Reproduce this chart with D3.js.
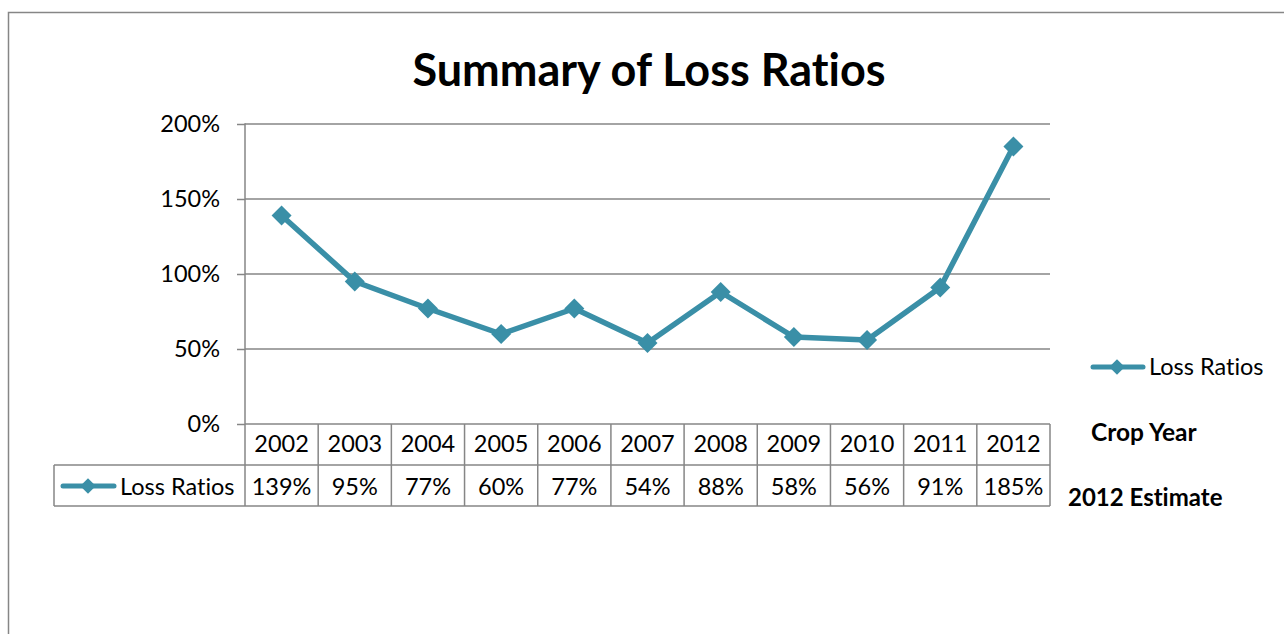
<!DOCTYPE html>
<html>
<head>
<meta charset="utf-8">
<script src="https://cdn.jsdelivr.net/npm/d3@7"></script>
<style>
  html, body { margin: 0; padding: 0; background: #fff; }
  svg { display: block; font-family: Lato, "Open Sans", sans-serif; font-variant-ligatures: none; }
</style>
</head>
<body>
<svg id="chart" width="1284" height="634"></svg>
<script>
// Crop years and loss ratios (fraction of premium)
const years = ["2002", "2003", "2004", "2005", "2006", "2007", "2008", "2009", "2010", "2011", "2012"];
const lossRatios = [1.39, 0.95, 0.77, 0.60, 0.77, 0.54, 0.88, 0.58, 0.56, 0.91, 1.85];
const yTicks = [0, 0.5, 1.0, 1.5, 2.0];
const seriesName = "Loss Ratios";
const chartTitle = "Summary of Loss Ratios";

const lineColor = "#3a8fa7";
const gridColor = "#868686";
const fs = 23.5;

const svg = d3.select("#chart");

// outer chart frame
svg.append("path")
  .attr("d", "M8.5,634 L8.5,12.5 L1284,12.5")
  .attr("fill", "none")
  .attr("stroke", gridColor)
  .attr("stroke-width", 1.5);

const plot = { left: 245, right: 1050, top: 124, bottom: 424 };
const rowH = 41;

const x = d3.scaleBand().domain(years).range([plot.left, plot.right]);
const y = d3.scaleLinear().domain([0, 2]).range([plot.bottom, plot.top]);

// title
svg.append("text")
  .attr("x", 649).attr("y", 86)
  .attr("text-anchor", "middle")
  .attr("font-size", 45).attr("font-weight", 700)
  .attr("fill", "#000")
  .text(chartTitle);

// horizontal gridlines
svg.append("g").selectAll("line")
  .data(yTicks.filter(d => d > 0))
  .join("line")
  .attr("x1", plot.left).attr("x2", plot.right)
  .attr("y1", d => y(d)).attr("y2", d => y(d))
  .attr("stroke", gridColor).attr("stroke-width", 1.5);

// y axis
const yAxis = svg.append("g")
  .attr("transform", `translate(${plot.left},0)`)
  .call(d3.axisLeft(y).tickValues(yTicks).tickFormat(d3.format(".0%")).tickSize(8).tickPadding(17));
yAxis.select(".domain").remove();
yAxis.selectAll(".tick line").attr("stroke", gridColor).attr("stroke-width", 1.5);
yAxis.selectAll(".tick text")
  .attr("font-size", fs).attr("fill", "#000")
  .attr("font-family", "Lato, 'Open Sans', sans-serif");

// axis line extended down through the data table
svg.append("line")
  .attr("x1", plot.left).attr("x2", plot.left)
  .attr("y1", plot.top - 0.75).attr("y2", plot.bottom + 2 * rowH)
  .attr("stroke", gridColor).attr("stroke-width", 1.5);

// data table grid
const tableG = svg.append("g");
const tableLeft = 54;
const tableBottom = plot.bottom + 2 * rowH;
tableG.append("line")
  .attr("x1", plot.left).attr("x2", plot.right)
  .attr("y1", plot.bottom).attr("y2", plot.bottom);
tableG.append("line")
  .attr("x1", tableLeft).attr("x2", plot.right)
  .attr("y1", plot.bottom + rowH).attr("y2", plot.bottom + rowH);
tableG.append("line")
  .attr("x1", tableLeft).attr("x2", plot.right)
  .attr("y1", tableBottom).attr("y2", tableBottom);
tableG.append("line")
  .attr("x1", tableLeft).attr("x2", tableLeft)
  .attr("y1", plot.bottom + rowH).attr("y2", tableBottom);
tableG.selectAll(".vsep")
  .data(years)
  .join("line")
  .attr("class", "vsep")
  .attr("x1", d => x(d) + x.bandwidth()).attr("x2", d => x(d) + x.bandwidth())
  .attr("y1", plot.bottom).attr("y2", tableBottom);
tableG.selectAll("line").attr("stroke", gridColor).attr("stroke-width", 1.5);

// year labels row
svg.append("g").selectAll("text")
  .data(years)
  .join("text")
  .attr("x", d => x(d) + x.bandwidth() / 2)
  .attr("y", plot.bottom + 28)
  .attr("text-anchor", "middle")
  .attr("font-size", fs).attr("fill", "#000")
  .text(d => d);

// value labels row
svg.append("g").selectAll("text")
  .data(years.map((yr, i) => ({ yr, v: lossRatios[i] })))
  .join("text")
  .attr("x", d => x(d.yr) + x.bandwidth() / 2)
  .attr("y", plot.bottom + rowH + 30)
  .attr("text-anchor", "middle")
  .attr("font-size", fs).attr("fill", "#000")
  .text(d => d3.format(".0%")(d.v));

// line-with-diamond key
function drawKey(g, cx, cy, x0, x1) {
  g.append("line")
    .attr("x1", x0).attr("x2", x1).attr("y1", cy).attr("y2", cy)
    .attr("stroke", lineColor).attr("stroke-width", 5).attr("stroke-linecap", "round");
  g.append("path")
    .attr("d", d3.symbol().type(d3.symbolSquare).size(120)())
    .attr("transform", `translate(${cx},${cy}) rotate(45)`)
    .attr("fill", lineColor);
}

// legend key inside the table
drawKey(svg.append("g"), 88, plot.bottom + rowH + 21, 63, 114);
svg.append("text")
  .attr("x", 120).attr("y", plot.bottom + rowH + 30)
  .attr("font-size", fs).attr("fill", "#000")
  .text(seriesName);

// series line
const line = d3.line()
  .x((d, i) => x(years[i]) + x.bandwidth() / 2)
  .y(d => y(d));
svg.append("path")
  .datum(lossRatios)
  .attr("d", line)
  .attr("fill", "none")
  .attr("stroke", lineColor)
  .attr("stroke-width", 5.5)
  .attr("stroke-linejoin", "round");

svg.append("g").selectAll("path")
  .data(lossRatios)
  .join("path")
  .attr("d", d3.symbol().type(d3.symbolSquare).size(200)())
  .attr("transform", (d, i) => `translate(${x(years[i]) + x.bandwidth() / 2},${y(d)}) rotate(45)`)
  .attr("fill", lineColor);

// side legend
drawKey(svg.append("g"), 1117, 367, 1093, 1143);
svg.append("text")
  .attr("x", 1149).attr("y", 375)
  .attr("font-size", fs).attr("fill", "#000")
  .text(seriesName);

// table annotations
svg.append("text")
  .attr("x", 1091).attr("y", 441)
  .attr("font-size", 24.5).attr("font-weight", 700).attr("fill", "#000")
  .text("Crop Year");
svg.append("text")
  .attr("x", 1068).attr("y", 506)
  .attr("font-size", 24).attr("font-weight", 700).attr("fill", "#000")
  .text("2012 Estimate");
</script>
</body>
</html>
